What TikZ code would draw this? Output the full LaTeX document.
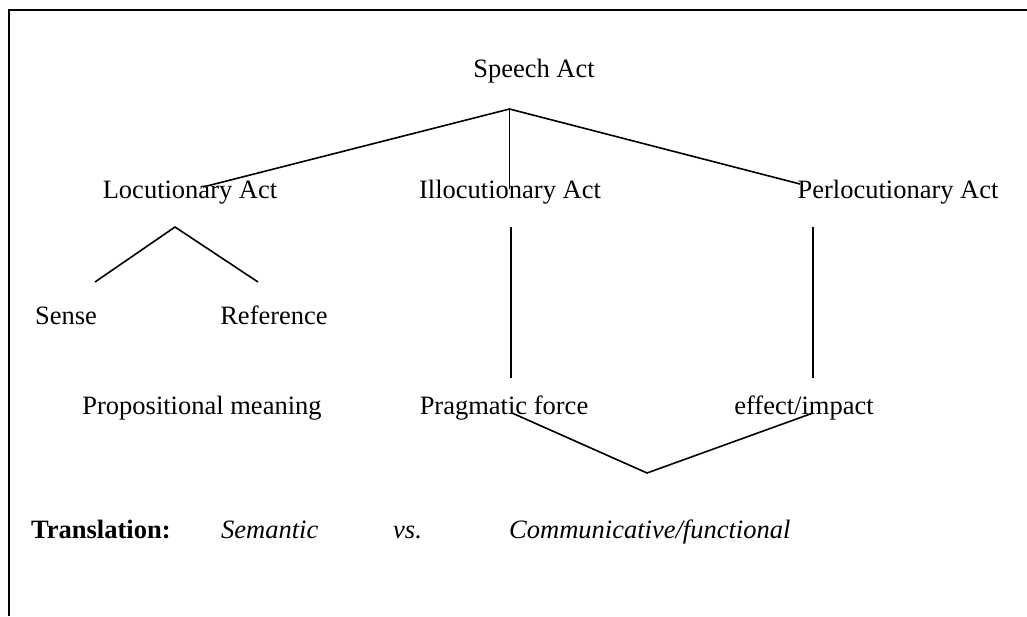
\documentclass[tikz,border=0pt]{standalone}
\usepackage{fontspec}
\setmainfont{Liberation Serif}
\usepackage{tikz}
\usetikzlibrary{positioning}

\begin{document}
\begin{tikzpicture}[
  x=1pt, y=-1pt,
  lbl/.style={inner sep=0pt, anchor=base, font=\fontsize{26.5}{30}\selectfont},
  lblw/.style={lbl, anchor=base west},
  ln/.style={line width=1.6pt, black},
  frm/.style={line width=2.5pt, black}
]
  \useasboundingbox (0,0) rectangle (1027,616);

  % frame (top and left only)
  \coordinate (ftl) at (9,10);
  \coordinate (ftr) at (1027,10);
  \coordinate (fbl) at (9,616);
  \draw[frm] (ftr) -- (ftl) -- (fbl);

  \node[lbl] (speech) at (534,77) {Speech Act};
  \node[lbl] (locu) at (190,198) {Locutionary Act};
  \node[lbl] (illo) at (510,198) {Illocutionary Act};
  \node[lbl] (perlo) at (898,198) {Perlocutionary Act};
  \node[lbl] (sense) at (66,324) {Sense};
  \node[lbl] (ref) at (274,324) {Reference};
  \node[lbl] (prop) at (202,414) {Propositional meaning};
  \node[lbl] (prag) at (504,414) {Pragmatic force};
  \node[lbl] (eff) at (804,414) {effect/impact};

  \node[lblw, font=\fontsize{26.5}{30}\selectfont\bfseries] (trans) at (31,538) {Translation:};
  \node[lblw, font=\fontsize{26.5}{30}\selectfont\itshape] (sem) at (221,538) {Semantic};
  \node[lblw, font=\fontsize{26.5}{30}\selectfont\itshape] (vs) at (393,538) {vs.};
  \node[lblw, font=\fontsize{26.5}{30}\selectfont\itshape] (comm) at (509,538) {Communicative/functional};

  % branch ends
  \coordinate (top) at (509.5,109);
  \coordinate (topL) at (203,187);
  \coordinate (topM) at (509.5,189);
  \coordinate (topR) at (800,184);
  \coordinate (lapex) at (175,227);
  \coordinate (lsense) at (95,282);
  \coordinate (lref) at (258,282);
  \coordinate (iup) at (511,227);
  \coordinate (idn) at (511,378);
  \coordinate (pup) at (813,227);
  \coordinate (pdn) at (813,378);
  \coordinate (vl) at (512,413);
  \coordinate (vb) at (647,473);
  \coordinate (vr) at (813,413);

  \draw[ln] (topL) -- (top) -- (topR);
  \draw[ln] (top) -- (topM);
  \draw[ln] (lsense) -- (lapex) -- (lref);
  \draw[ln] (iup) -- (idn);
  \draw[ln] (pup) -- (pdn);
  \draw[ln] (vl) -- (vb) -- (vr);
\end{tikzpicture}
\end{document}
